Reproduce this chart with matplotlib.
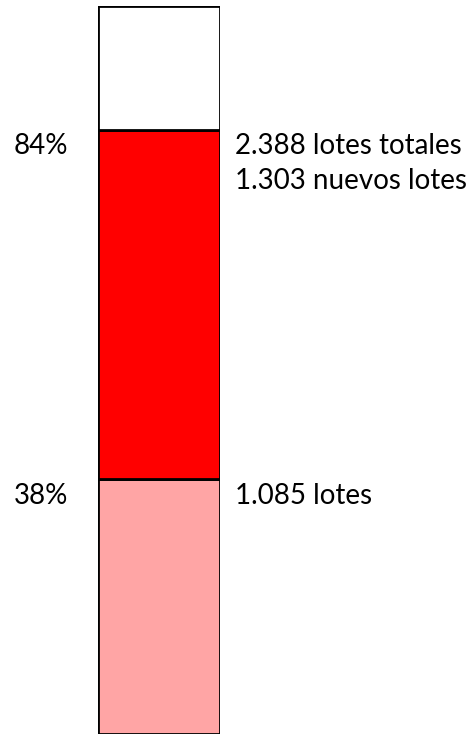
import matplotlib.pyplot as plt
from matplotlib import transforms

# segment heights as drawn (bottom to top), in % of bar height
segments = [35, 48, 17]
colors = ['#ffa5a5', '#ff0000', '#ffffff']
# labels at the boundaries
pct_labels = ['38%', '84%']
lot_labels = ['1.085 lotes', '2.388 lotes totales\n1.303 nuevos lotes']

fig = plt.figure(figsize=(4.74, 7.37), dpi=100)
ax = fig.add_axes([98 / 474, 3 / 737, 122 / 474, 728 / 737])

bottom = 0
for h, c in zip(segments, colors):
    ax.bar(0, h, width=1, bottom=bottom, color=c, edgecolor='black',
           linewidth=2)
    bottom += h

ax.set_xlim(-0.5, 0.5)
ax.set_ylim(0, sum(segments))
ax.axis('off')

trans = transforms.blended_transform_factory(fig.transFigure, ax.transData)
bounds = [segments[0], segments[0] + segments[1]]
for y, p, l in zip(bounds, pct_labels, lot_labels):
    ax.text(14 / 474, y - 0.5, p, transform=trans, va='top', ha='left',
            fontsize=20, family='Lato', clip_on=False)
    ax.text(235 / 474, y - 0.5, l, transform=trans, va='top', ha='left',
            fontsize=20, family='Lato', linespacing=1.4, clip_on=False)

fig.savefig('out.png', dpi=100)
